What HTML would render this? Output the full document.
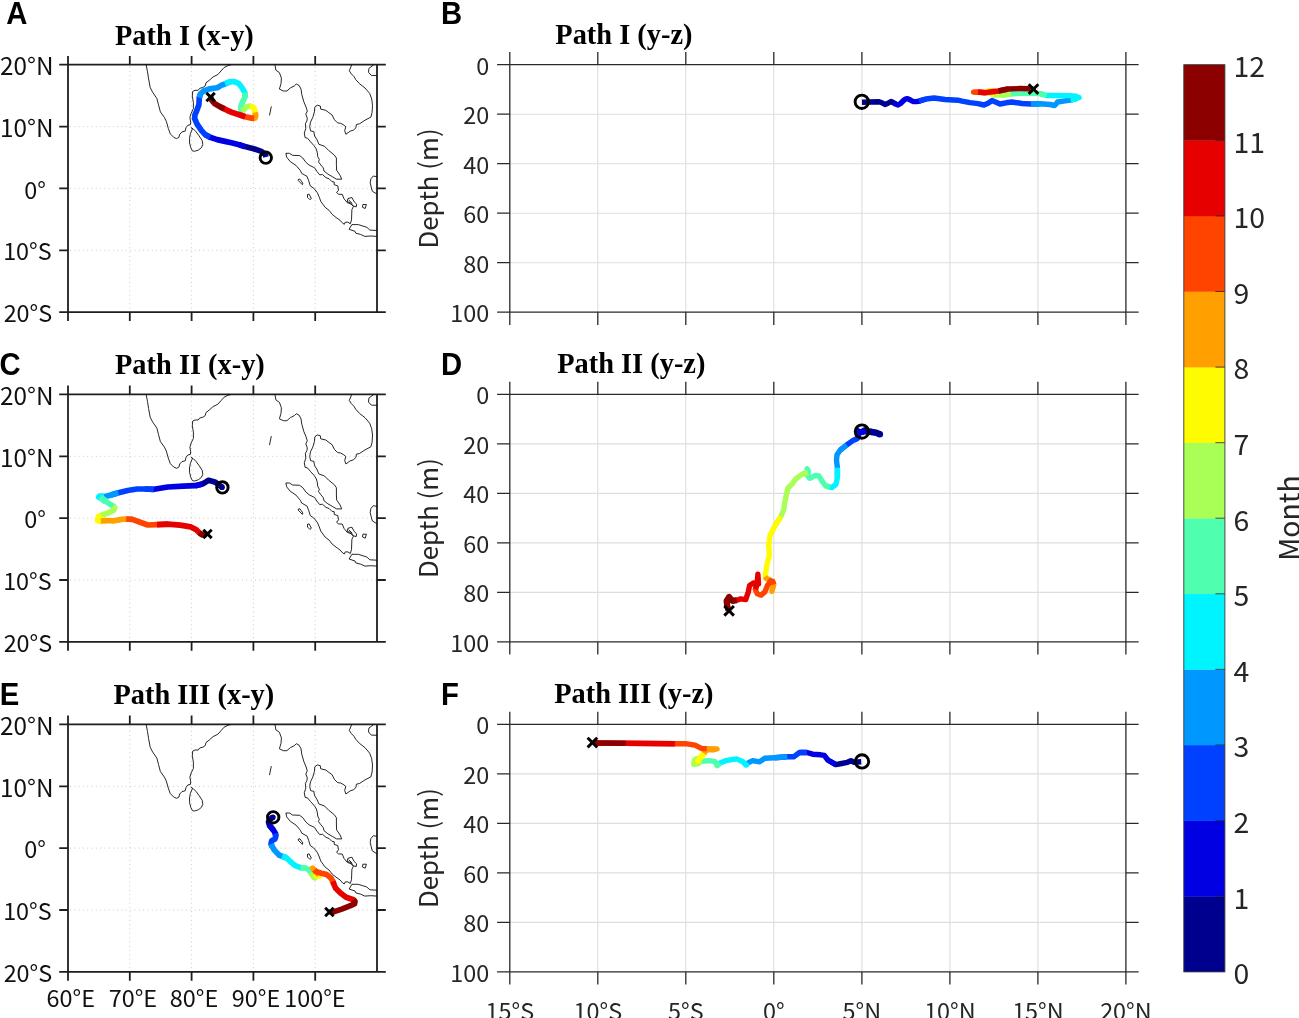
<!DOCTYPE html>
<html lang="en"><head><meta charset="utf-8"><title>Particle paths</title>
<style>html,body{margin:0;padding:0;background:#fff}svg{display:block;will-change:transform}</style></head>
<body>
<svg width="1299" height="1018" viewBox="0 0 1299 1018">
<rect width="1299" height="1018" fill="#fff"/>
<defs>
<g id="coast" fill="none" stroke="#000" stroke-width="0.85" stroke-linejoin="round"><polyline points="146.3,64.7 146.4,66.0 147.5,71.8 148.6,78.9 150.2,87.5 152.6,92.2 156.9,98.5 158.5,104.8 160.4,111.9 164.4,117.4 166.3,121.3 168.3,128.4 170.3,133.9 173.8,137.4 176.5,138.6 178.9,137.4 179.7,134.3 182.0,131.9 185.2,131.1 186.0,127.6 187.9,125.2 190.3,124.8 190.7,122.1 189.9,117.4 191.1,113.4 193.4,108.7 193.4,102.4 192.3,96.1 192.7,91.4 195.0,90.3 198.2,90.3 199.7,88.3 202.9,87.5 205.2,85.9 206.0,82.8 209.2,80.4 213.1,76.9 217.9,74.5 221.0,71.0 224.1,67.5 228.1,65.5 230.8,64.8"/><polyline points="271.3,106.4 269.5,115.4"/><polyline points="275.0,64.7 275.1,65.5 275.9,70.2 279.4,72.6 281.4,78.1 281.0,83.6 279.4,89.1 283.4,91.0 286.9,91.0 290.4,87.9 294.4,85.9 296.3,84.0 299.1,85.5 301.0,89.1 301.8,94.6 303.8,101.7 306.1,107.2 307.3,111.1 305.8,114.2 307.3,118.2 306.9,120.9 305.4,123.7 305.8,128.4 304.3,133.0 305.1,137.6 307.5,138.2 310.6,141.9 313.8,145.4 316.1,148.6 317.3,152.5 317.7,156.4 319.3,159.6 318.5,161.9 320.9,165.1 323.2,167.8 324.0,171.0 327.9,174.1 332.7,176.9 336.6,179.2 341.7,179.2 340.1,175.3 336.6,170.2 336.4,164.3 336.4,158.0 334.2,154.9 328.7,150.5 324.4,146.2 318.9,144.3 316.9,139.5 314.6,136.0 313.8,131.7 310.6,130.9 309.7,126.8 310.5,122.1 312.8,117.4 314.4,111.9 314.8,107.2 317.2,105.2 320.3,106.0 320.7,109.1 325.8,110.3 328.9,112.7 332.1,115.0 334.4,119.7 337.6,122.9 340.7,123.3 343.9,125.2 345.8,126.8 344.7,130.7 345.9,134.3 350.1,131.2 353.6,130.0 356.0,127.7 356.4,124.5 359.5,123.8 365.0,120.2 370.9,117.1 372.1,112.4 372.5,105.3 371.7,99.0 369.7,93.5 365.0,88.0 359.5,83.7 355.6,79.4 354.0,76.6 351.3,73.9 349.3,70.7 351.7,64.8"/><polyline points="373.7,64.8 368.9,68.4 368.5,72.3 371.3,75.4 376.8,75.6"/><polyline points="376.8,230.5 369.9,230.1 366.8,227.3 362.1,225.8 358.2,224.6 351.9,224.6 349.1,229.3 355.0,231.3 355.8,233.2 360.5,234.4 364.8,236.4 370.7,236.0 376.8,236.4"/><polyline points="376.8,176.7 373.3,176.0 370.9,178.8 370.2,182.9 371.2,187.0 372.3,191.2 376.8,194.0"/><polyline points="348.6,200.0 352.4,203.6"/><polygon points="191.2,127.7 193.2,128.9 195.9,131.6 199.1,135.9 202.2,140.6 202.8,144.6 201.4,147.7 198.3,150.1 194.4,151.3 192.4,150.9 190.8,147.7 189.6,143.0 189.5,138.3 190.4,133.6 192.4,128.9"/><polygon points="285.9,153.3 289.4,153.3 292.6,155.3 299.6,155.6 302.8,158.0 305.9,162.3 309.1,165.1 314.6,167.8 316.9,171.4 319.7,174.9 322.4,174.5 326.0,177.7 329.1,178.8 331.9,181.6 334.2,182.0 334.2,184.7 337.8,185.9 338.5,190.2 336.6,192.6 338.5,194.2 342.3,194.4 344.0,198.7 347.2,202.6 351.1,204.1 353.4,206.5 351.9,209.6 351.5,219.9 350.3,223.8 347.9,222.2 345.2,222.2 344.4,224.2 342.8,223.4 340.1,220.3 336.1,217.5 332.2,214.4 329.1,210.4 325.1,207.3 320.8,201.4 319.3,197.3 317.3,192.6 313.8,188.3 310.3,185.9 308.7,180.8 307.1,176.5 301.6,173.3 300.4,170.6 296.1,165.5 290.2,161.5 286.7,157.2"/><polygon points="298.5,179.2 300.0,179.2 302.8,183.2 302.4,184.7 298.1,180.4"/><polygon points="307.5,194.5 309.1,194.2 311.4,198.5 309.9,199.7 307.5,197.3"/><polygon points="347.9,198.6 351.9,197.5 354.2,201.8 356.6,204.1 356.2,206.9 353.4,206.1 350.3,202.6 347.2,201.8"/><polygon points="362.9,204.5 366.4,204.5 365.2,208.5 362.5,207.3"/></g>
<g id="mapframe"><g stroke="#cacaca" stroke-width="1" stroke-dasharray="1 3.3" fill="none"><path d="M129.8,66.7V311.2"/><path d="M191.6,66.7V311.2"/><path d="M253.4,66.7V311.2"/><path d="M315.2,66.7V311.2"/><path d="M70.0,126.6H376.0"/><path d="M70.0,188.4H376.0"/><path d="M70.0,250.3H376.0"/></g><path d="M68.0,64.7H377.0V312.2H68.0ZM68.0,64.7v-8.8M68.0,312.2v8.8M129.8,64.7v-8.8M129.8,312.2v8.8M191.6,64.7v-8.8M191.6,312.2v8.8M253.4,64.7v-8.8M253.4,312.2v8.8M315.2,64.7v-8.8M315.2,312.2v8.8M68.0,64.7h-8.8M377.0,64.7h8.8M68.0,126.6h-8.8M377.0,126.6h8.8M68.0,188.4h-8.8M377.0,188.4h8.8M68.0,250.3h-8.8M377.0,250.3h8.8M68.0,312.2h-8.8M377.0,312.2h8.8" fill="none" stroke="#1e1e1e" stroke-width="1.8"/></g>
<g id="depframe"><g stroke="#dedede" stroke-width="1.1" fill="none"><path d="M597.8,64.7V312.2"/><path d="M685.8,64.7V312.2"/><path d="M773.8,64.7V312.2"/><path d="M861.9,64.7V312.2"/><path d="M949.9,64.7V312.2"/><path d="M1037.9,64.7V312.2"/><path d="M509.8,114.2H1125.9"/><path d="M509.8,163.7H1125.9"/><path d="M509.8,213.2H1125.9"/><path d="M509.8,262.7H1125.9"/></g><path d="M509.8,64.7H1125.9V312.2H509.8ZM509.8,64.7v-12.7M509.8,312.2v12.7M597.8,64.7v-12.7M597.8,312.2v12.7M685.8,64.7v-12.7M685.8,312.2v12.7M773.8,64.7v-12.7M773.8,312.2v12.7M861.9,64.7v-12.7M861.9,312.2v12.7M949.9,64.7v-12.7M949.9,312.2v12.7M1037.9,64.7v-12.7M1037.9,312.2v12.7M1125.9,64.7v-12.7M1125.9,312.2v12.7M509.8,64.7h-12.7M1125.9,64.7h12.7M509.8,114.2h-12.7M1125.9,114.2h12.7M509.8,163.7h-12.7M1125.9,163.7h12.7M509.8,213.2h-12.7M1125.9,213.2h12.7M509.8,262.7h-12.7M1125.9,262.7h12.7M509.8,312.2h-12.7M1125.9,312.2h12.7" fill="none" stroke="#2a2a2a" stroke-width="1.3"/><g font-family='"Noto Sans CJK SC","Liberation Sans",sans-serif' font-size="23.4" fill="#262626" text-anchor="end"><text x="489.3" y="74.7">0</text><text x="489.3" y="124.2">20</text><text x="489.3" y="173.7">40</text><text x="489.3" y="223.2">60</text><text x="489.3" y="272.7">80</text><text x="489.3" y="322.2">100</text></g><text transform="translate(438.0,188.4) rotate(-90)" text-anchor="middle" font-family='"Noto Sans CJK SC","Liberation Sans",sans-serif' font-size="25.8" fill="#262626">Depth (m)</text></g>
</defs>
<g transform="translate(0,0)">
<use href="#mapframe"/>
<use href="#coast"/>
<g fill="none" stroke-width="5.7" stroke-linecap="butt" stroke-linejoin="round"><polyline points="266.0,157.0 265.4,154.6 261.4,151.4 253.6,148.7 244.9,146.6 239.3,144.8" stroke="#00008f"/><polyline points="244.9,146.6 239.3,144.8 231.4,142.8 225.0,141.4 217.2,139.6 210.1,137.3 205.4,134.8" stroke="#0000e3"/><polyline points="210.1,137.3 205.4,134.8 201.4,130.4 197.1,124.1 194.6,118.5 195.0,114.5 196.6,111.1 198.9,104.8 199.3,97.7 200.5,93.8" stroke="#0040ff"/><polyline points="199.3,97.7 200.5,93.8 203.6,91.0 209.4,88.9 217.3,87.7 221.2,85.4 225.1,83.8 229.9,81.9" stroke="#0098ff"/><polyline points="225.1,83.8 229.9,81.9 233.8,81.5 238.5,83.4 241.7,87.3 244.8,92.6 245.2,96.7" stroke="#00f4ff"/><polyline points="244.8,92.6 245.2,96.7 242.8,101.4 240.9,106.1 240.9,110.1 241.7,110.9 244.0,109.7" stroke="#4fffaf"/><polyline points="241.7,110.9 244.0,109.7 246.4,106.9 249.5,106.1 252.7,106.9" stroke="#a9ff55"/><polyline points="249.5,106.1 252.7,106.9 254.6,109.3 255.0,112.4 255.8,115.6" stroke="#fffb00"/><polyline points="255.0,112.4 255.8,115.6 255.0,118.0 254.2,118.3 250.3,117.9" stroke="#ffa000"/><polyline points="254.2,118.3 250.3,117.9 245.2,116.8 239.3,114.8" stroke="#ff4400"/><polyline points="245.2,116.8 239.3,114.8 233.0,112.8 227.5,110.5 224.4,108.9 219.6,106.5" stroke="#e60000"/><polyline points="224.4,108.9 219.6,106.5 214.9,103.8 211.8,100.3 210.6,97.1" stroke="#8d0000"/></g>
<g fill="none" stroke="#000" stroke-width="2.9"><circle cx="265.8" cy="157.7" r="5.7"/><path d="M206.4,92.9L214.8,101.3M206.4,101.3L214.8,92.9"/></g>
<g font-family='"Noto Sans CJK SC","Liberation Sans",sans-serif' font-size="23.4" fill="#111" text-anchor="end"><text x="53.5" y="75.0" font-size="24.3">20°N</text><text x="53.5" y="136.9" font-size="24.3">10°N</text><text x="45.8" y="198.5">0°</text><text x="51.699999999999996" y="260.4">10°S</text><text x="52.199999999999996" y="322.3">20°S</text></g>
</g>
<g transform="translate(0,329.7)">
<use href="#mapframe"/>
<use href="#coast"/>
<g fill="none" stroke-width="5.7" stroke-linecap="butt" stroke-linejoin="round"><circle cx="222.0" cy="157.5" r="2.85" fill="#00008f" stroke="none"/><polyline points="222.0,157.5 215.5,152.6 208.6,150.6 204.0,153.4 202.4,154.2 195.5,156.0" stroke="#00008f"/><polyline points="202.4,154.2 195.5,156.0 183.2,156.5 167.8,157.3 153.9,159.6 144.7,159.3" stroke="#0000e3"/><polyline points="153.9,159.6 144.7,159.3 137.0,159.3 127.7,160.8 118.5,163.1 110.8,165.4" stroke="#0040ff"/><polyline points="118.5,163.1 110.8,165.4 103.9,167.0 99.6,166.8" stroke="#0098ff"/><polyline points="103.9,167.0 99.6,166.8 99.2,167.3 100.2,167.7 106.2,171.9" stroke="#00f4ff" stroke-width="6.6"/><polyline points="100.2,167.7 106.2,171.9 113.1,176.5 114.7,177.8" stroke="#4fffaf"/><polyline points="113.1,176.5 114.7,177.8 113.9,180.4 107.7,183.4 101.6,185.4 98.8,187.5" stroke="#a9ff55"/><polyline points="101.6,185.4 98.8,187.5 97.9,190.3 100.8,191.3 106.2,190.8" stroke="#fffb00" stroke-width="6.6"/><polyline points="100.8,191.3 106.2,190.8 113.9,191.1 121.6,189.7 126.2,189.3 132.4,189.7" stroke="#ffa000"/><polyline points="126.2,189.3 132.4,189.7 140.1,192.5 147.8,195.3 157.0,194.9 167.8,194.4" stroke="#ff4400"/><polyline points="157.0,194.9 167.8,194.4 180.1,195.4 190.9,197.2 196.3,200.1 199.3,203.1 202.4,205.3" stroke="#e60000"/><polyline points="199.3,203.1 202.4,205.3 206.3,204.8" stroke="#8d0000"/></g>
<g fill="none" stroke="#000" stroke-width="2.9"><circle cx="222.4" cy="157.7" r="5.7"/><path d="M203.3,200.0L211.7,208.4M203.3,208.4L211.7,200.0"/></g>
<g font-family='"Noto Sans CJK SC","Liberation Sans",sans-serif' font-size="23.4" fill="#111" text-anchor="end"><text x="53.5" y="75.0" font-size="24.3">20°N</text><text x="53.5" y="136.9" font-size="24.3">10°N</text><text x="45.8" y="198.5">0°</text><text x="51.699999999999996" y="260.4">10°S</text><text x="52.199999999999996" y="322.3">20°S</text></g>
</g>
<g transform="translate(0,659.7)">
<use href="#mapframe"/>
<use href="#coast"/>
<g fill="none" stroke-width="5.7" stroke-linecap="butt" stroke-linejoin="round"><circle cx="272.8" cy="157.6" r="2.85" fill="#00008f" stroke="none"/><polyline points="272.8,157.6 269.5,160.1 268.5,162.3 269.5,165.7 273.2,170.1" stroke="#00008f"/><polyline points="269.5,165.7 273.2,170.1 275.4,173.8 275.8,176.8" stroke="#0000e3"/><polyline points="275.4,173.8 275.8,176.8 275.0,179.3 271.7,181.1 271.0,184.1 272.2,186.8" stroke="#0040ff"/><polyline points="271.0,184.1 272.2,186.8 274.6,190.7 279.0,195.3 282.1,196.6 286.2,198.0" stroke="#0098ff"/><polyline points="282.1,196.6 286.2,198.0 290.3,201.8 295.1,205.9 300.6,208.0 305.4,208.3" stroke="#00f4ff"/><polyline points="300.6,208.0 305.4,208.3 308.9,210.1 310.9,212.8 312.3,214.9" stroke="#4fffaf"/><polyline points="310.9,212.8 312.3,214.9 314.0,217.6 314.9,217.9 316.4,216.1" stroke="#a9ff55" stroke-width="6.2"/><polyline points="314.9,217.9 316.4,216.1 319.2,216.3 319.2,215.3 315.5,211.8" stroke="#fffb00"/><polyline points="319.2,215.3 315.5,211.8 312.6,208.5 314.4,210.1 315.8,211.8" stroke="#ffa000"/><polyline points="314.4,210.1 315.8,211.8 321.3,213.5 326.8,214.9 330.9,218.3 332.9,221.7 333.6,223.8" stroke="#ff4400"/><polyline points="332.9,221.7 333.6,223.8 335.7,228.6 340.5,233.4 346.0,237.6 353.5,240.1 355.0,241.8" stroke="#e60000"/><polyline points="353.5,240.1 355.0,241.8 354.6,243.9 350.5,246.0 341.7,249.4 334.3,251.9 329.4,252.6" stroke="#8d0000"/></g>
<g fill="none" stroke="#000" stroke-width="2.9"><circle cx="273.2" cy="157.6" r="5.7"/><path d="M325.2,248.1L333.6,256.5M325.2,256.5L333.6,248.1"/></g>
<g font-family='"Noto Sans CJK SC","Liberation Sans",sans-serif' font-size="23.4" fill="#111" text-anchor="end"><text x="53.5" y="75.0" font-size="24.3">20°N</text><text x="53.5" y="136.9" font-size="24.3">10°N</text><text x="45.8" y="198.5">0°</text><text x="51.699999999999996" y="260.4">10°S</text><text x="52.199999999999996" y="322.3">20°S</text></g>
</g>
<g font-family='"Noto Sans CJK SC","Liberation Sans",sans-serif' font-size="23.4" fill="#111" text-anchor="middle"><text x="70.8" y="1007.4">60°E</text><text x="132.9" y="1007.4">70°E</text><text x="194.0" y="1007.4">80°E</text><text x="256.0" y="1007.4">90°E</text><text x="314.9" y="1007.4">100°E</text></g>
<use href="#depframe" transform="translate(0,0)"/>
<g fill="none" stroke-width="5.4" stroke-linecap="butt" stroke-linejoin="round"><polyline points="862.0,102.2 870.0,102.0 879.0,101.8 882.0,102.8 885.0,104.5 888.0,103.3 891.0,101.5 894.0,103.0 896.0,104.3" stroke="#00008f"/><polyline points="894.0,103.0 896.0,104.3 898.0,105.0 900.5,103.5 903.0,101.0 905.3,99.2 907.5,98.6 910.0,99.8 913.0,101.5 916.0,101.6 919.0,101.2 926.0,99.0" stroke="#0000e3"/><polyline points="919.0,101.2 926.0,99.0 934.0,98.0 945.0,99.5 958.0,100.2 962.0,101.2 970.0,102.6 978.0,103.6 984.0,105.0 988.0,103.2 992.0,100.5 996.0,102.2 1000.0,104.0 1006.0,102.8 1012.0,102.0 1022.0,103.5 1031.0,104.0 1040.0,103.8" stroke="#0040ff"/><polyline points="1031.0,104.0 1040.0,103.8 1050.0,104.5 1054.6,105.5 1056.2,103.8 1057.6,102.0 1065.0,100.8 1070.6,100.0 1076.0,98.8" stroke="#0098ff"/><polyline points="1070.6,100.0 1076.0,98.8 1079.0,97.5 1076.0,96.3 1070.0,95.6 1055.0,95.5 1046.6,95.5 1040.0,93.6" stroke="#00f4ff"/><polyline points="1046.6,95.5 1040.0,93.6 1030.0,93.0 1020.0,93.2 1011.0,94.0 1002.0,95.0" stroke="#4fffaf"/><polyline points="1011.0,94.0 1002.0,95.0 994.0,95.0 991.0,93.5" stroke="#a9ff55"/><polyline points="994.0,95.0 991.0,93.5 989.0,90.5 996.0,92.0 985.0,92.5" stroke="#fffb00"/><polyline points="996.0,92.0 985.0,92.5 978.0,92.2 973.6,92.1" stroke="#ffa000"/><polyline points="978.0,92.2 973.6,92.1 978.0,92.0 985.0,92.8" stroke="#ff4400"/><polyline points="978.0,92.0 985.0,92.8 993.0,91.5 998.5,91.0 1008.0,89.0" stroke="#e60000"/><polyline points="998.5,91.0 1008.0,89.0 1020.0,88.5 1030.0,88.8 1033.0,89.0" stroke="#8d0000"/></g>
<g fill="none" stroke="#000" stroke-width="2.9"><circle cx="861.8" cy="101.8" r="6.7"/><path d="M1028.7,84.3L1038.3,93.9M1028.7,93.9L1038.3,84.3"/></g>
<use href="#depframe" transform="translate(0,329.7)"/>
<g fill="none" stroke-width="5.4" stroke-linecap="butt" stroke-linejoin="round"><circle cx="879.8" cy="434.2" r="3.30" fill="#00008f" stroke="none"/><polyline points="879.8,434.2 876.2,432.7 871.6,431.9 866.1,431.3 865.2,430.4 865.2,430.2 861.5,432.6" stroke="#00008f" stroke-width="6.6"/><polyline points="865.2,430.2 861.5,432.6 857.8,430.7 858.7,434.9 857.5,437.5 856.8,439.0" stroke="#0000e3"/><polyline points="857.5,437.5 856.8,439.0 853.1,440.4 846.7,445.0 840.2,450.1" stroke="#0040ff"/><polyline points="846.7,445.0 840.2,450.1 837.0,454.7 836.5,460.3 837.4,467.7 837.4,477.8" stroke="#0098ff"/><polyline points="837.4,467.7 837.4,477.8 836.0,484.3 831.9,487.5 830.0,487.1 825.4,485.7" stroke="#00f4ff"/><polyline points="830.0,487.1 825.4,485.7 821.7,480.6 819.0,476.0 815.3,475.5 809.7,478.3 807.9,476.0 808.3,470.4 807.0,468.8 807.9,472.7 802.3,474.1" stroke="#4fffaf"/><polyline points="807.9,472.7 802.3,474.1 795.9,478.7 792.2,483.8 788.0,488.0 786.2,495.4 784.3,505.0 784.0,508.9 780.9,516.6 775.1,525.5" stroke="#a9ff55"/><polyline points="780.9,516.6 775.1,525.5 770.0,535.7 768.7,544.7 769.4,554.9 766.8,565.1 765.2,576.6 766.2,578.5" stroke="#fffb00"/><polyline points="765.2,576.6 766.2,578.5 770.0,579.8 772.6,584.3 771.9,591.3 773.8,584.5 772.8,581.5" stroke="#ffa000"/><polyline points="773.8,584.5 772.8,581.5 770.5,581.0 767.4,585.5 764.9,591.9 761.1,595.1 757.2,593.8 755.3,589.4 757.1,584.3" stroke="#ff4400"/><polyline points="755.3,589.4 757.1,584.3 757.9,574.2 758.5,584.0 753.4,583.0 749.6,585.5 748.3,591.9 745.7,599.6 740.6,598.9 736.8,600.2 732.3,600.9" stroke="#e60000"/><polyline points="736.8,600.2 732.3,600.9 729.1,597.0 726.6,600.9 727.2,606.0 728.5,610.5" stroke="#8d0000" stroke-width="6.2"/></g>
<g fill="none" stroke="#000" stroke-width="2.9"><circle cx="861.9" cy="431.6" r="6.7"/><path d="M724.3,606.0L733.9,615.6M724.3,615.6L733.9,606.0"/></g>
<use href="#depframe" transform="translate(0,659.7)"/>
<g fill="none" stroke-width="5.4" stroke-linecap="butt" stroke-linejoin="round"><polyline points="861.2,761.8 853.7,762.3 850.9,760.6 847.4,762.3 841.6,763.5 835.8,764.6 827.8,760.0" stroke="#00008f"/><polyline points="835.8,764.6 827.8,760.0 824.3,755.4 820.8,754.8 812.7,754.2 807.0,752.5 799.5,752.5" stroke="#0000e3"/><polyline points="807.0,752.5 799.5,752.5 793.7,756.8 787.3,756.8 774.6,757.7" stroke="#0040ff"/><polyline points="787.3,756.8 774.6,757.7 764.8,758.3 759.6,761.8 752.7,760.6 748.1,762.9 746.0,765.0" stroke="#0098ff"/><polyline points="748.1,762.9 746.0,765.0 742.8,761.7 736.6,758.9 726.9,760.3 720.0,763.1 717.0,765.6" stroke="#00f4ff"/><polyline points="720.0,763.1 717.0,765.6 715.1,761.7 708.9,760.7 700.5,761.3 697.8,763.8" stroke="#4fffaf"/><polyline points="700.5,761.3 697.8,763.8 693.8,764.3 694.3,760.3 696.5,758.5 698.3,760.8 700.5,757.6" stroke="#a9ff55"/><polyline points="698.3,760.8 700.5,757.6 703.6,753.8" stroke="#fffb00" stroke-width="6.0" stroke-linecap="round"/><polyline points="704.0,753.4 706.8,749.5 713.0,749.9 717.0,748.9 706.8,748.6 701.9,748.6" stroke="#ffa000"/><polyline points="706.8,748.6 701.9,748.6 695.0,745.1 685.3,743.7 674.9,743.7 625.7,743.3" stroke="#ff4400"/><polyline points="674.9,743.7 625.7,743.3 593.9,743.0" stroke="#e60000"/><polyline points="625.7,743.3 593.9,743.0" stroke="#8d0000"/></g>
<g fill="none" stroke="#000" stroke-width="2.9"><circle cx="862.0" cy="761.4" r="6.7"/><path d="M587.6,737.8L597.2,747.4M587.6,747.4L597.2,737.8"/></g>
<g font-family='"Noto Sans CJK SC","Liberation Sans",sans-serif' font-size="23.4" fill="#262626" text-anchor="middle"><text x="509.8" y="1019.5">15°S</text><text x="597.8" y="1019.5">10°S</text><text x="685.8" y="1019.5">5°S</text><text x="773.8" y="1019.5">0°</text><text x="861.9" y="1019.5">5°N</text><text x="949.9" y="1019.5">10°N</text><text x="1037.9" y="1019.5">15°N</text><text x="1125.9" y="1019.5">20°N</text></g>
<g><rect x="1183.8" y="896.21" width="41.1" height="75.89" fill="#00008f"/><rect x="1183.8" y="820.62" width="41.1" height="75.89" fill="#0000e3"/><rect x="1183.8" y="745.02" width="41.1" height="75.89" fill="#0040ff"/><rect x="1183.8" y="669.43" width="41.1" height="75.89" fill="#0098ff"/><rect x="1183.8" y="593.84" width="41.1" height="75.89" fill="#00f4ff"/><rect x="1183.8" y="518.25" width="41.1" height="75.89" fill="#4fffaf"/><rect x="1183.8" y="442.66" width="41.1" height="75.89" fill="#a9ff55"/><rect x="1183.8" y="367.07" width="41.1" height="75.89" fill="#fffb00"/><rect x="1183.8" y="291.48" width="41.1" height="75.89" fill="#ffa000"/><rect x="1183.8" y="215.88" width="41.1" height="75.89" fill="#ff4400"/><rect x="1183.8" y="140.29" width="41.1" height="75.89" fill="#e60000"/><rect x="1183.8" y="64.70" width="41.1" height="75.89" fill="#8d0000"/><path d="M1224.9,896.2h-9.5M1224.9,820.6h-9.5M1224.9,745.0h-9.5M1224.9,669.4h-9.5M1224.9,593.8h-9.5M1224.9,518.2h-9.5M1224.9,442.7h-9.5M1224.9,367.1h-9.5M1224.9,291.5h-9.5M1224.9,215.9h-9.5M1224.9,140.3h-9.5" stroke="#262626" stroke-width="0.8" fill="none"/><rect x="1183.8" y="64.7" width="41.1" height="907.1" fill="none" stroke="#3a3a3a" stroke-width="0.9"/><g font-family='"Noto Sans CJK SC","Liberation Sans",sans-serif' font-size="28.4" fill="#262626"><text x="1233.4" y="984.1">0</text><text x="1233.4" y="908.5">1</text><text x="1233.4" y="832.9">2</text><text x="1233.4" y="757.3">3</text><text x="1233.4" y="681.7">4</text><text x="1233.4" y="606.1">5</text><text x="1233.4" y="530.5">6</text><text x="1233.4" y="455.0">7</text><text x="1233.4" y="379.4">8</text><text x="1233.4" y="303.8">9</text><text x="1233.4" y="228.2">10</text><text x="1233.4" y="152.6">11</text><text x="1233.4" y="77.0">12</text></g><text transform="translate(1299.6,518.0) rotate(-90)" text-anchor="middle" font-family='"Noto Sans CJK SC","Liberation Sans",sans-serif' font-size="28.4" fill="#262626">Month</text></g>
<g font-family='"Liberation Sans",sans-serif' font-weight="bold" font-size="29.3" fill="#000"><text transform="translate(6.2,24.0) scale(1,1.045)">A</text><text transform="translate(441.0,24.0) scale(1,1.045)">B</text><text transform="translate(-0.5,374.6) scale(1,1.045)">C</text><text transform="translate(441.0,374.6) scale(1,1.045)">D</text><text transform="translate(-0.2,705.0) scale(1,1.045)">E</text><text transform="translate(441.0,705.0) scale(1,1.045)">F</text></g>
<g font-family='"Liberation Serif",serif' font-weight="bold" font-size="28.4" fill="#000"><text x="115.0" y="44.9">Path I (x-y)</text><text x="555.3" y="43.6">Path I (y-z)</text><text x="115.0" y="374.3">Path II (x-y)</text><text x="557.2" y="373.1">Path II (y-z)</text><text x="113.4" y="704.3">Path III (x-y)</text><text x="554.2" y="703.1">Path III (y-z)</text></g>
</svg>
</body></html>
